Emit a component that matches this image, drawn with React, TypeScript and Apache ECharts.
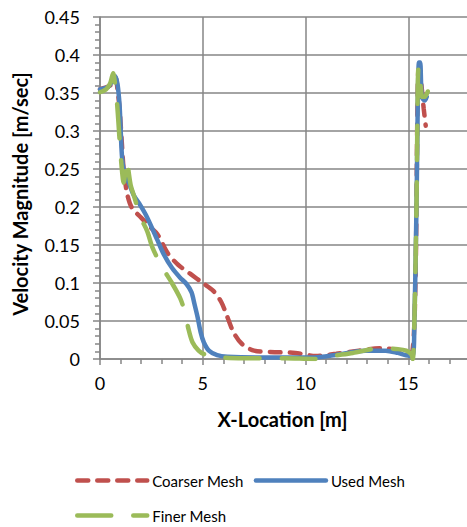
import React, { useEffect, useRef } from "react";
import * as echarts from "echarts";

// Velocity magnitude profiles along the channel for three mesh resolutions
const coarserX = [0, 0.5, 0.75, 0.85, 0.95, 1.05, 1.15, 1.3, 1.45, 1.6, 2.0, 2.5, 2.8, 3.3, 3.8, 4.4, 5.0, 5.5, 5.9, 6.2, 6.5, 6.9, 7.5, 8.5, 9.5, 10.5, 11.5, 12.6, 13.6, 14.5, 15.0, 15.2, 15.35, 15.5, 15.6, 15.75, 15.85];
const coarserV = [0.355, 0.36, 0.37, 0.355, 0.33, 0.29, 0.25, 0.22, 0.205, 0.197, 0.186, 0.172, 0.164, 0.139, 0.124, 0.112, 0.1, 0.09, 0.075, 0.055, 0.035, 0.02, 0.011, 0.009, 0.008, 0.004, 0.007, 0.011, 0.014, 0.012, 0.009, 0.01, 0.1, 0.38, 0.37, 0.33, 0.307];

const usedX = [0, 0.4, 0.6, 0.74, 0.85, 0.95, 1.0, 1.05, 1.1, 1.2, 1.4, 1.65, 1.9, 2.3, 2.8, 3.1, 3.5, 3.9, 4.2, 4.45, 4.6, 4.75, 4.9, 5.05, 5.3, 5.7, 6.2, 8, 9, 10.3, 11.6, 12.9, 13.9, 14.5, 14.9, 15.2, 15.3, 15.4, 15.52, 15.58, 15.66, 15.8, 15.9];
const usedV = [0.355, 0.358, 0.366, 0.372, 0.362, 0.335, 0.305, 0.275, 0.258, 0.244, 0.232, 0.215, 0.205, 0.186, 0.156, 0.138, 0.12, 0.107, 0.099, 0.088, 0.072, 0.055, 0.035, 0.022, 0.011, 0.005, 0.003, 0.002, 0.002, 0.002, 0.006, 0.011, 0.011, 0.008, 0.005, 0.004, 0.05, 0.2, 0.39, 0.39, 0.345, 0.34, 0.345];

const finerX = [0, 0.3, 0.5, 0.64, 0.74, 0.82, 0.9, 0.98, 1.08, 1.15, 1.25, 1.32, 1.4, 1.5, 1.65, 1.95, 2.3, 2.55, 3.0, 3.5, 3.9, 4.15, 4.3, 4.5, 4.8, 5.1, 5.9, 7, 9, 10.4, 11.3, 12.3, 13.6, 14.5, 14.9, 15.15, 15.22, 15.3, 15.4, 15.5, 15.6, 15.68, 15.8, 15.95];
const finerV = [0.351, 0.355, 0.363, 0.376, 0.36, 0.34, 0.31, 0.278, 0.245, 0.232, 0.25, 0.262, 0.245, 0.228, 0.215, 0.188, 0.168, 0.147, 0.122, 0.1, 0.08, 0.06, 0.04, 0.022, 0.011, 0.006, 0.002, 0.001, 0.001, 0.0, 0.004, 0.008, 0.014, 0.013, 0.011, 0.006, 0.0, 0.05, 0.2, 0.384, 0.36, 0.345, 0.345, 0.352];

const xTicks = [0, 5, 10, 15, 20];
const yTicks = [0, 0.05, 0.1, 0.15, 0.2, 0.25, 0.3, 0.35, 0.4, 0.45];

const seriesNames = ["Coarser Mesh", "Used Mesh", "Finer Mesh"];

const zip = (xs: number[], ys: number[]) => xs.map((x, i) => [x, ys[i]]);

const GRID_GRAY = "#868686";
const FONT = "Lato";
const LINE_W = 4.5;

export default function App() {
  const ref = useRef<HTMLDivElement>(null);

  useEffect(() => {
    if (!ref.current) return;
    const chart = echarts.init(ref.current, null, { renderer: "svg" });
    const lineBase = { type: "line" as const, showSymbol: false, symbol: "none", smooth: 0.3 };
    const legendText = { fontFamily: FONT, fontSize: 15, color: "#000" };
    const legendLine = { width: LINE_W, cap: "round" };
    // legend keys are plain line samples, no marker dot
    const legendMarker = { opacity: 0 };
    chart.setOption({
      animation: false,
      backgroundColor: "#ffffff",
      // the plot runs past the right edge of the visible frame
      grid: { left: 100, top: 17, right: 0, bottom: 168, containLabel: false, outerBoundsMode: "none" },
      xAxis: {
        type: "value",
        min: xTicks[0],
        max: xTicks[xTicks.length - 1],
        interval: 5,
        name: "X-Location [m]",
        nameLocation: "middle",
        nameGap: 50,
        nameTextStyle: {
          fontFamily: FONT,
          fontWeight: "bold",
          fontSize: 20,
          color: "#000",
          padding: [0, 46, 0, 0],
        },
        axisLine: { lineStyle: { color: GRID_GRAY, width: 1.5 } },
        axisTick: { show: true, length: 6, lineStyle: { color: GRID_GRAY, width: 1.5 } },
        minorTick: { show: true, splitNumber: 5, length: 5, lineStyle: { color: GRID_GRAY, width: 1.5 } },
        splitLine: { show: true, lineStyle: { color: GRID_GRAY, width: 1.5 } },
        axisLabel: { fontFamily: FONT, fontSize: 18, color: "#000", margin: 15, showMaxLabel: false },
      },
      yAxis: {
        type: "value",
        min: yTicks[0],
        max: yTicks[yTicks.length - 1],
        interval: 0.05,
        name: "Velocity Magnitude [m/sec]",
        nameLocation: "middle",
        nameGap: 70,
        nameTextStyle: {
          fontFamily: FONT,
          fontWeight: "bold",
          fontSize: 20,
          color: "#000",
          padding: [0, 12, 0, 0],
        },
        axisLine: { show: true, lineStyle: { color: GRID_GRAY, width: 1.5 } },
        axisTick: { show: true, length: 7, lineStyle: { color: GRID_GRAY, width: 1.5 } },
        minorTick: { show: true, splitNumber: 5, length: 5, lineStyle: { color: GRID_GRAY, width: 1.5 } },
        splitLine: { show: true, lineStyle: { color: GRID_GRAY, width: 1.5 } },
        axisLabel: {
          fontFamily: FONT,
          fontSize: 18,
          color: "#000",
          margin: 20,
          formatter: (v: number) => String(Math.round(v * 100) / 100),
        },
      },
      legend: [
        {
          data: [seriesNames[0], seriesNames[1]],
          left: 70,
          top: 468,
          itemWidth: 70,
          itemHeight: 3,
          itemGap: 10,
          itemStyle: legendMarker,
          lineStyle: legendLine,
          textStyle: legendText,
        },
        {
          data: [seriesNames[2]],
          left: 70,
          top: 503,
          itemWidth: 70,
          itemHeight: 3,
          itemStyle: legendMarker,
          lineStyle: legendLine,
          textStyle: legendText,
        },
      ],
      series: [
        {
          ...lineBase,
          name: seriesNames[0],
          data: zip(coarserX, coarserV),
          lineStyle: { color: "#C0504D", width: LINE_W, type: [11, 9], cap: "round" },
          itemStyle: { color: "#C0504D" },
        },
        {
          ...lineBase,
          name: seriesNames[1],
          data: zip(usedX, usedV),
          lineStyle: { color: "#4F81BD", width: LINE_W, cap: "round" },
          itemStyle: { color: "#4F81BD" },
        },
        {
          ...lineBase,
          name: seriesNames[2],
          data: zip(finerX, finerV),
          lineStyle: { color: "#9BBB59", width: LINE_W, type: [34, 22], cap: "round" },
          itemStyle: { color: "#9BBB59" },
        },
      ],
    });
    return () => chart.dispose();
  }, []);

  return (
    <div style={{ position: "absolute", left: 0, top: 0, width: 467, height: 527, overflow: "hidden" }}>
      <div ref={ref} style={{ width: 511, height: 527 }} />
    </div>
  );
}
